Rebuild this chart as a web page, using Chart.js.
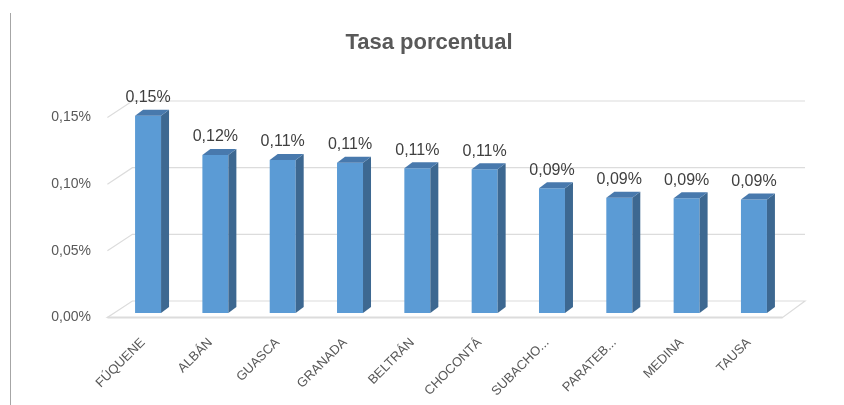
<!DOCTYPE html>
<html>
<head>
<meta charset="utf-8">
<script src="https://cdn.jsdelivr.net/npm/chart.js@4/dist/chart.umd.min.js"></script>
<style>
  html, body { margin: 0; padding: 0; background: #fff; }
</style>
</head>
<body>
<canvas id="chart" width="844" height="405"></canvas>
<script>
const categories = ['FÚQUENE', 'ALBÁN', 'GUASCA', 'GRANADA', 'BELTRÁN', 'CHOCONTÁ', 'SUBACHO...', 'PARATEB...', 'MEDINA', 'TAUSA'];
// percent values
const tasa = [0.148, 0.1185, 0.1147, 0.1127, 0.1085, 0.1078, 0.0935, 0.0865, 0.086, 0.0852];
const yTicks = [0, 0.05, 0.10, 0.15];
const title = 'Tasa porcentual';

const fmt = v => v.toFixed(2).replace('.', ',') + '%';

// 3D look: depth offsets for bars and for the floor / back wall
const barDx = 8, barDy = 6;
const wallDx = 25, wallDy = 16.5, frontShift = 4.5;

const threeD = {
  id: 'threeD',
  beforeDatasetsDraw(chart) {
    const ctx = chart.ctx;
    const area = chart.chartArea;
    const y = chart.scales.y;
    const left = area.left - 7;
    const right = 805;
    ctx.save();
    // floor
    const fy = y.getPixelForValue(0) + frontShift;
    ctx.strokeStyle = '#dcdcdc';
    ctx.lineWidth = 1.2;
    ctx.beginPath();
    ctx.moveTo(left, fy);
    ctx.lineTo(area.right - 5, fy);
    ctx.lineTo(right, fy - wallDy);
    ctx.lineTo(left + wallDx, fy - wallDy);
    ctx.closePath();
    ctx.stroke();
    ctx.lineWidth = 2;
    ctx.beginPath();
    ctx.moveTo(left, fy);
    ctx.lineTo(area.right - 5, fy);
    ctx.stroke();
    // back wall gridlines
    ctx.lineWidth = 1.2;
    yTicks.slice(1).forEach(v => {
      const py = y.getPixelForValue(v) + frontShift;
      ctx.beginPath();
      ctx.moveTo(left, py);
      ctx.lineTo(left + wallDx, py - wallDy);
      ctx.lineTo(right, py - wallDy);
      ctx.stroke();
    });
    ctx.restore();
  },
  afterDatasetsDraw(chart) {
    const ctx = chart.ctx;
    const meta = chart.getDatasetMeta(0);
    ctx.save();
    meta.data.forEach((bar, i) => {
      const w = bar.width;
      const x0 = bar.x - w / 2, x1 = bar.x + w / 2;
      // side face
      ctx.fillStyle = '#3d6891';
      ctx.beginPath();
      ctx.moveTo(x1, bar.y);
      ctx.lineTo(x1 + barDx, bar.y - barDy);
      ctx.lineTo(x1 + barDx, bar.base - barDy);
      ctx.lineTo(x1, bar.base);
      ctx.closePath();
      ctx.fill();
      // top face
      ctx.fillStyle = '#4879ad';
      ctx.beginPath();
      ctx.moveTo(x0, bar.y);
      ctx.lineTo(x0 + barDx, bar.y - barDy);
      ctx.lineTo(x1 + barDx, bar.y - barDy);
      ctx.lineTo(x1, bar.y);
      ctx.closePath();
      ctx.fill();
      // value label
      ctx.fillStyle = '#404040';
      ctx.font = '16px "Liberation Sans", Arial, sans-serif';
      ctx.textAlign = 'center';
      ctx.textBaseline = 'middle';
      ctx.fillText(fmt(tasa[i]), bar.x, bar.y - 18);
    });
    // title
    ctx.fillStyle = '#595959';
    ctx.font = 'bold 22px "Liberation Sans", Arial, sans-serif';
    ctx.textAlign = 'center';
    ctx.textBaseline = 'middle';
    ctx.fillText(title, 429, 43);
    // frame line at the left
    ctx.strokeStyle = '#a6a6a6';
    ctx.lineWidth = 1;
    ctx.beginPath();
    ctx.moveTo(10.5, 13);
    ctx.lineTo(10.5, 405);
    ctx.stroke();
    ctx.restore();
  }
};

new Chart(document.getElementById('chart'), {
  type: 'bar',
  data: {
    labels: categories,
    datasets: [{
      data: tasa,
      backgroundColor: '#5b9bd5',
      borderWidth: 0,
      barPercentage: 0.386,
      categoryPercentage: 1
    }]
  },
  plugins: [threeD],
  options: {
    responsive: false,
    animation: false,
    devicePixelRatio: 1,
    layout: { padding: { left: 0, right: 56.4, top: 113, bottom: 0 } },
    plugins: {
      legend: { display: false },
      tooltip: { enabled: false },
      title: { display: false }
    },
    scales: {
      x: {
        grid: { display: false, drawTicks: false },
        border: { display: false },
        afterFit: s => { s.height = 92; },
        ticks: {
          color: '#595959',
          font: { family: '"Liberation Sans", Arial, sans-serif', size: 13 },
          minRotation: 45,
          maxRotation: 45,
          autoSkip: false,
          padding: 22,
          labelOffset: -5
        }
      },
      y: {
        min: 0,
        max: 0.15,
        grid: { display: false, drawTicks: false },
        border: { display: false },
        afterFit: s => { s.width = 114.4; },
        afterBuildTicks: s => { s.ticks = yTicks.map(v => ({ value: v })); },
        ticks: {
          color: '#595959',
          font: { family: '"Liberation Sans", Arial, sans-serif', size: 14 },
          padding: 23.4,
          labelOffset: frontShift,
          callback: v => fmt(v)
        }
      }
    }
  }
});
</script>
</body>
</html>
